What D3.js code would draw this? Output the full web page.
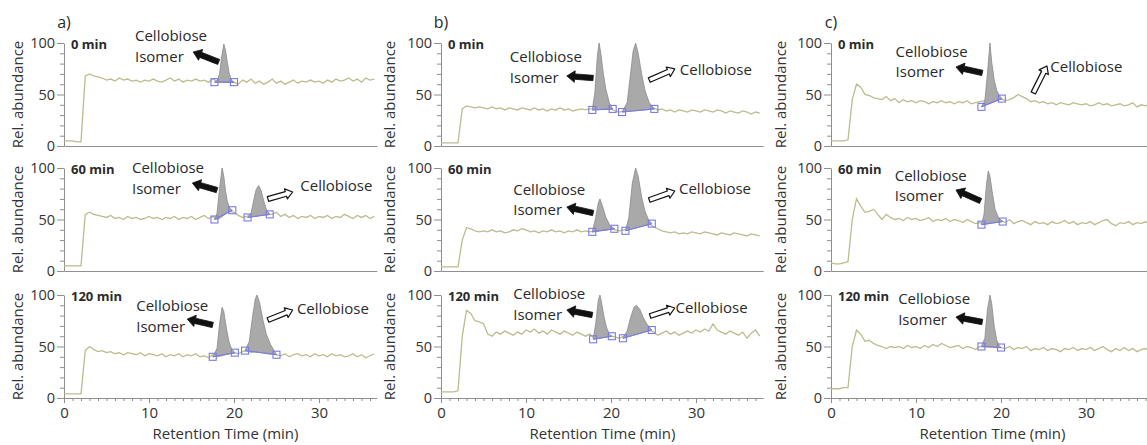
<!DOCTYPE html>
<html>
<head>
<meta charset="utf-8">
<script src="https://cdn.jsdelivr.net/npm/d3@7"></script>
<style>
  body { margin: 0; background: #fff; }
  text { font-family: "Open Sans", sans-serif; }
</style>
</head>
<body>
<div id="chart"></div>
<script>
// Retention time grid (min)
const time = [0, 0.5, 1, 1.5, 2, 2.5, 3, 3.5, 4, 4.5,
  5, 5.5, 6, 6.5, 7, 7.5, 8, 8.5, 9, 9.5,
  10, 10.5, 11, 11.5, 12, 12.5, 13, 13.5, 14, 14.5,
  15, 15.5, 16, 16.5, 17, 17.5, 18, 18.5, 19, 19.5,
  20, 20.5, 21, 21.5, 22, 22.5, 23, 23.5, 24, 24.5,
  25, 25.5, 26, 26.5, 27, 27.5, 28, 28.5, 29, 29.5,
  30, 30.5, 31, 31.5, 32, 32.5, 33, 33.5, 34, 34.5,
  35, 35.5, 36, 36.5, 37, 37.5, 38, 38.5];

const panelLabels = ["a)", "b)", "c)"];
const rowLabels = ["0 min", "60 min", "120 min"];
const yMajorTicks = [0, 50, 100];
const yMinorTicks = [10, 20, 30, 40, 60, 70, 80, 90];
const xMajorTicks = [0, 10, 20, 30];
const xMinorTicks = [1, 2, 3, 4, 5, 6, 7, 8, 9, 11, 12, 13, 14, 15, 16, 17, 18, 19,
  21, 22, 23, 24, 25, 26, 27, 28, 29, 31, 32, 33, 34, 35, 36, 37, 38];
const xMax = [36.8, 37.9, 38.5];

// Rel. abundance traces, one per panel and row
const traceA0 = [5, 5, 5, 4, 4, 68, 70, 68, 67, 66,
  64, 65, 63, 66, 64, 65, 63, 64, 62, 64,
  63, 65, 63, 62, 64, 66, 63, 65, 62, 64,
  63, 65, 63, 64, 62, 65, 63, 62, 62, 62,
  62, 60, 64, 62, 65, 61, 63, 60, 62, 65,
  61, 63, 60, 62, 64, 61, 63, 62, 64, 62,
  63, 61, 64, 62, 65, 63, 64, 66, 63, 65,
  62, 66, 64, 65, 63, 65, 64, 65];
const traceA1 = [5, 5, 5, 5, 5, 55, 57, 55, 54, 53,
  52, 54, 51, 52, 50, 53, 51, 52, 50, 51,
  53, 51, 52, 50, 52, 51, 53, 50, 52, 51,
  53, 50, 52, 54, 51, 53, 50, 52, 56, 58,
  57, 54, 52, 53, 55, 53, 54, 56, 55, 55,
  57, 53, 55, 52, 54, 51, 53, 52, 54, 51,
  53, 52, 54, 51, 53, 52, 55, 53, 51, 54,
  52, 54, 51, 53, 52, 54, 51, 53];
const traceA2 = [4, 4, 4, 4, 4, 46, 50, 47, 45, 46,
  44, 45, 43, 44, 42, 44, 43, 42, 44, 41,
  43, 42, 41, 43, 40, 42, 41, 43, 40, 42,
  41, 43, 40, 41, 39, 42, 40, 41, 42, 43,
  44, 43, 45, 46, 44, 45, 45, 44, 43, 43,
  42, 41, 43, 40, 42, 43, 41, 42, 40, 43,
  41, 42, 40, 43, 41, 42, 40, 41, 43, 40,
  42, 39, 41, 43, 40, 42, 41, 43];
const traceB0 = [3, 3, 3, 3, 3, 36, 39, 38, 37, 38,
  37, 36, 38, 36, 37, 35, 37, 36, 35, 37,
  36, 35, 37, 35, 36, 34, 36, 35, 37, 35,
  36, 34, 35, 36, 35, 36, 36, 36, 36, 36,
  36, 34, 33, 34, 34, 35, 35, 35, 36, 36,
  37, 35, 36, 34, 35, 33, 35, 34, 33, 35,
  34, 33, 35, 34, 33, 35, 34, 32, 34, 33,
  32, 34, 33, 31, 33, 32, 33, 33];
const traceB1 = [4, 4, 4, 4, 4, 30, 42, 41, 39, 38,
  39, 38, 40, 38, 39, 37, 38, 40, 39, 41,
  40, 38, 39, 37, 39, 38, 40, 38, 39, 37,
  39, 38, 40, 38, 39, 38, 39, 40, 40, 40,
  41, 40, 39, 40, 41, 42, 43, 44, 45, 46,
  43, 41, 39, 38, 37, 38, 36, 37, 36, 38,
  37, 36, 38, 37, 36, 35, 37, 36, 35, 37,
  36, 35, 34, 36, 35, 34, 35, 34];
const traceB2 = [6, 6, 6, 6, 7, 60, 85, 82, 75, 74,
  72, 62, 60, 64, 62, 65, 63, 61, 64, 62,
  66, 64, 67, 63, 65, 62, 66, 64, 62, 65,
  63, 61, 64, 62, 60, 62, 58, 60, 60, 60,
  60, 59, 58, 60, 61, 62, 63, 64, 65, 66,
  64, 61, 63, 65, 62, 64, 61, 63, 65, 63,
  66, 64, 67, 65, 72, 66, 64, 62, 65, 63,
  61, 64, 58, 63, 66, 60, 65, 64];
const traceC0 = [5, 5, 5, 5, 6, 45, 60, 57, 50, 49,
  47, 46, 45, 48, 44, 46, 42, 45, 43, 44,
  42, 44, 43, 41, 43, 42, 44, 42, 43, 41,
  43, 42, 44, 41, 42, 43, 44, 46, 47, 46,
  46, 44, 45, 47, 50, 48, 46, 43, 44, 42,
  43, 41, 42, 40, 42, 41, 40, 42, 41, 40,
  41, 39, 40, 42, 40, 41, 39, 40, 41, 39,
  40, 42, 38, 40, 39, 41, 39, 40];
const traceC1 = [8, 7, 7, 8, 9, 50, 70, 63, 57, 58,
  60, 55, 50, 55, 52, 50, 51, 49, 52, 50,
  51, 49, 50, 52, 48, 50, 49, 51, 48, 50,
  49, 47, 50, 48, 46, 47, 46, 47, 48, 48,
  49, 47, 50, 46, 48, 49, 47, 45, 48, 46,
  47, 45, 48, 46, 47, 49, 46, 48, 45, 47,
  46, 48, 45, 47, 49, 50, 46, 44, 47, 46,
  48, 45, 47, 46, 48, 45, 47, 46];
const traceC2 = [9, 9, 9, 10, 10, 50, 66, 62, 55, 56,
  53, 51, 50, 48, 50, 49, 50, 48, 51, 49,
  50, 48, 51, 49, 52, 50, 53, 51, 49, 50,
  51, 48, 50, 49, 47, 50, 50, 50, 50, 49,
  49, 48, 50, 47, 49, 48, 50, 46, 48, 47,
  49, 46, 48, 47, 45, 48, 47, 49, 46, 48,
  47, 49, 46, 48, 50, 47, 45, 48, 46, 49,
  46, 48, 45, 47, 48, 46, 47, 46];

// Integrated peaks [time, abundance]; first and last points are the baseline markers
const isoA0 = [[17.7, 62], [18.0, 63], [18.3, 70], [18.5, 84], [18.8, 99], [19.0, 93], [19.2, 82], [19.4, 72], [19.6, 66], [19.8, 63], [20.0, 62]];
const isoA1 = [[17.7, 50], [18.0, 56], [18.3, 80], [18.6, 100], [18.8, 92], [19.0, 78], [19.2, 68], [19.5, 61], [19.8, 59]];
const celA1 = [[21.6, 52], [22.0, 56], [22.3, 68], [22.6, 79], [22.9, 83], [23.2, 78], [23.5, 68], [23.8, 60], [24.2, 55]];
const isoA2 = [[17.5, 40], [18.0, 48], [18.3, 72], [18.6, 88], [18.8, 84], [19.1, 68], [19.4, 55], [19.7, 48], [20.1, 44]];
const celA2 = [[21.3, 46], [21.8, 55], [22.2, 80], [22.5, 96], [22.7, 100], [23.0, 93], [23.4, 76], [23.8, 62], [24.3, 52], [25.0, 42]];
const isoB0 = [[17.8, 35], [18.1, 52], [18.4, 88], [18.6, 100], [18.8, 90], [19.1, 70], [19.4, 55], [19.8, 42], [20.2, 36]];
const celB0 = [[21.3, 33], [21.9, 42], [22.3, 70], [22.6, 92], [22.9, 100], [23.2, 90], [23.6, 70], [24.0, 54], [24.5, 42], [25.1, 36]];
const isoB1 = [[17.8, 38], [18.2, 52], [18.5, 66], [18.7, 70], [19.0, 63], [19.4, 52], [19.9, 44], [20.4, 41]];
const celB1 = [[21.7, 39], [22.1, 52], [22.5, 85], [22.9, 100], [23.2, 92], [23.6, 72], [24.0, 58], [24.4, 50], [24.8, 46]];
const isoB2 = [[17.9, 57], [18.2, 72], [18.5, 95], [18.7, 100], [18.9, 92], [19.2, 78], [19.5, 68], [19.8, 62], [20.1, 60]];
const celB2 = [[21.4, 58], [21.9, 65], [22.3, 78], [22.7, 88], [23.0, 90], [23.4, 86], [23.8, 78], [24.2, 72], [24.8, 66]];
const isoC0 = [[17.7, 38], [18.1, 44], [18.4, 70], [18.7, 100], [18.9, 82], [19.2, 64], [19.5, 54], [19.8, 49], [20.1, 46]];
const isoC1 = [[17.7, 45], [18.0, 55], [18.3, 85], [18.5, 97], [18.7, 92], [19.0, 75], [19.3, 60], [19.7, 52], [20.2, 48]];
const isoC2 = [[17.7, 50], [18.1, 58], [18.4, 85], [18.7, 100], [18.9, 92], [19.2, 70], [19.5, 56], [19.8, 51], [20.0, 49]];

const traces = [[traceA0, traceA1, traceA2], [traceB0, traceB1, traceB2], [traceC0, traceC1, traceC2]];
const peaks = [
  [[isoA0], [isoA1, celA1], [isoA2, celA2]],
  [[isoB0, celB0], [isoB1, celB1], [isoB2, celB2]],
  [[isoC0], [isoC1], [isoC2]]
];

// Annotations in data coords: iso text, black arrow [tail, tip], cellobiose text, hollow arrow [tail, tip]
const notes = [
  [
    { iso: [8.35, 105.8], isoArrow: [[18.2, 81.6], [15.2, 91.3]] },
    { iso: [8.0, 99], isoArrow: [[18.0, 78.6], [15.1, 85.4]], cel: [27.8, 81.6], celArrow: [[24.0, 69.9], [26.9, 76.7]] },
    { iso: [8.5, 88.3], isoArrow: [[17.5, 70.9], [14.5, 76.7]], cel: [27.4, 85.4], celArrow: [[24.0, 75.7], [26.9, 85.4]] }
  ],
  [
    { iso: [8.1, 85.4], isoArrow: [[17.9, 66], [14.8, 68]], cel: [28.1, 72.8], celArrow: [[24.5, 64], [27.5, 74.8]] },
    { iso: [8.5, 77.7], isoArrow: [[17.9, 56.3], [14.8, 62.1]], cel: [28.0, 78.6], celArrow: [[24.5, 68.9], [27.5, 77.7]] },
    { iso: [8.5, 100], isoArrow: [[17.8, 80.6], [14.8, 85.4]], cel: [27.6, 86.4], celArrow: [[24.6, 79.6], [27.5, 87.4]] }
  ],
  [
    { iso: [7.6, 90.3], isoArrow: [[17.8, 70.9], [14.7, 76.7]], cel: [25.8, 75.7], celArrow: [[23.8, 51.5], [25.4, 77.7]] },
    { iso: [7.5, 91.3], isoArrow: [[17.6, 68], [14.7, 78.6]] },
    { iso: [7.9, 95.1], isoArrow: [[17.8, 73.8], [14.7, 78.6]] }
  ]
];

// Layout
const W = 1147, H = 445;
const axisLeft = [64, 441, 831];
const pxPerMin = 8.5;
const rowTop = [43, 168, 295];
const rowH = 103;
const yLabelX = [19, 391, 782];

const traceColor = "#bcbc8f";
const markColor = "#7b7be6";
const axisColor = "#8f8f8f";
const textColor = "#2a2a2a";

const svg = d3.select("#chart").append("svg")
  .attr("width", W).attr("height", H);

function arrowPath(x1, y1, x2, y2, hw, hh, hl) {
  const L = Math.hypot(x2 - x1, y2 - y1);
  const a = Math.atan2(y2 - y1, x2 - x1);
  const pts = [[0, -hw], [L - hl, -hw], [L - hl, -hh], [L, 0], [L - hl, hh], [L - hl, hw], [0, hw]];
  return "M" + pts.map(([px, py]) => [
    x1 + px * Math.cos(a) - py * Math.sin(a),
    y1 + px * Math.sin(a) + py * Math.cos(a)
  ].join(",")).join("L") + "Z";
}

panelLabels.forEach((lab, p) => {
  const x = d3.scaleLinear([0, xMax[p]], [axisLeft[p], axisLeft[p] + xMax[p] * pxPerMin]);

  svg.append("text")
    .attr("x", axisLeft[p]).attr("y", 24)
    .attr("text-anchor", "middle").attr("dominant-baseline", "middle")
    .style("font-size", "16px").attr("fill", textColor)
    .text(lab);

  rowLabels.forEach((rl, r) => {
    const y = d3.scaleLinear([0, 100], [rowTop[r] + rowH, rowTop[r]]);
    const g = svg.append("g");

    // y axis
    const yMajor = g.append("g")
      .attr("transform", `translate(${axisLeft[p]},0)`)
      .call(d3.axisLeft(y).tickValues(yMajorTicks).tickSize(7).tickSizeOuter(0).tickPadding(2));
    g.append("g")
      .attr("transform", `translate(${axisLeft[p]},0)`)
      .call(d3.axisLeft(y).tickValues(yMinorTicks).tickSize(4).tickFormat(""))
      .call(s => s.select(".domain").remove());
    yMajor.selectAll("text").style("font-size", "14.5px").attr("fill", "#333");

    // x axis
    if (r === 2) {
      const xa = g.append("g")
        .attr("transform", `translate(0,${y(0)})`)
        .call(d3.axisBottom(x).tickValues(xMajorTicks).tickSize(5).tickSizeOuter(0).tickPadding(4));
      xa.selectAll("text").style("font-size", "15px").attr("fill", "#333");
      g.append("g")
        .attr("transform", `translate(0,${y(0)})`)
        .call(d3.axisBottom(x).tickValues(xMinorTicks.filter(t => t <= xMax[p])).tickSize(3).tickFormat(""))
        .call(s => s.select(".domain").remove());
    } else {
      g.append("g")
        .attr("transform", `translate(0,${y(0)})`)
        .call(d3.axisBottom(x).tickValues([]).tickSizeOuter(0));
    }
    g.selectAll(".domain, .tick line").attr("stroke", axisColor);

    // axis title
    g.append("text")
      .attr("transform", `translate(${yLabelX[p]},${rowTop[r] + rowH / 2}) rotate(-90)`)
      .attr("text-anchor", "middle").attr("dominant-baseline", "middle")
      .style("font-size", "15px").attr("fill", "#333")
      .text("Rel. abundance");

    // trace
    const pts = time.map((t, i) => [t, traces[p][r][i]]).filter(d => d[0] <= xMax[p]);
    const line = d3.line().x(d => x(d[0])).y(d => y(d[1]));
    g.append("path").attr("d", line(pts))
      .attr("fill", "none").attr("stroke", traceColor).attr("stroke-width", 1.3);

    // integrated peaks
    peaks[p][r].forEach(pk => {
      g.append("path").attr("d", line(pk) + "Z")
        .attr("fill", "#a9a9a9").attr("stroke", "#8a8a8a").attr("stroke-width", 0.8);
      const ends = [pk[0], pk[pk.length - 1]];
      g.append("path").attr("d", line(ends))
        .attr("stroke", markColor).attr("stroke-width", 1.1).attr("fill", "none");
      g.selectAll(null).data(ends).join("rect")
        .attr("x", d => x(d[0]) - 3.5).attr("y", d => y(d[1]) - 3.5)
        .attr("width", 7).attr("height", 7)
        .attr("fill", "none").attr("stroke", markColor).attr("stroke-width", 1.1);
    });

    // sample time label
    g.append("text")
      .attr("x", axisLeft[p] + 7).attr("y", rowTop[r] + 3)
      .attr("dominant-baseline", "middle")
      .style("font-size", "13px").style("font-weight", "bold").attr("fill", textColor)
      .text(rl);

    // annotations
    const n = notes[p][r];
    const iso = g.append("text")
      .attr("x", x(n.iso[0])).attr("y", y(n.iso[1]))
      .attr("dominant-baseline", "middle")
      .style("font-size", "15px").attr("fill", textColor);
    iso.append("tspan").attr("x", x(n.iso[0])).text("Cellobiose");
    iso.append("tspan").attr("x", x(n.iso[0])).attr("dy", 20.5).text("Isomer");
    const [ia, ib] = n.isoArrow;
    g.append("path")
      .attr("d", arrowPath(x(ia[0]), y(ia[1]), x(ib[0]), y(ib[1]), 2.7, 5.8, 8))
      .attr("fill", "#111").attr("stroke", "#111").attr("stroke-width", 0.8)
      .attr("stroke-linejoin", "round");
    if (n.cel) {
      g.append("text")
        .attr("x", x(n.cel[0])).attr("y", y(n.cel[1]))
        .attr("dominant-baseline", "middle")
        .style("font-size", "15px").attr("fill", textColor)
        .text("Cellobiose");
      const [ca, cb] = n.celArrow;
      g.append("path")
        .attr("d", arrowPath(x(ca[0]), y(ca[1]), x(cb[0]), y(cb[1]), 2.4, 5.2, 7))
        .attr("fill", "#fff").attr("stroke", "#111").attr("stroke-width", 1.2)
        .attr("stroke-linejoin", "round");
    }
  });

  svg.append("text")
    .attr("x", axisLeft[p] + 19 * pxPerMin).attr("y", 435)
    .attr("text-anchor", "middle").attr("dominant-baseline", "middle")
    .style("font-size", "15px").attr("fill", "#333")
    .text("Retention Time (min)");
});
</script>
</body>
</html>
